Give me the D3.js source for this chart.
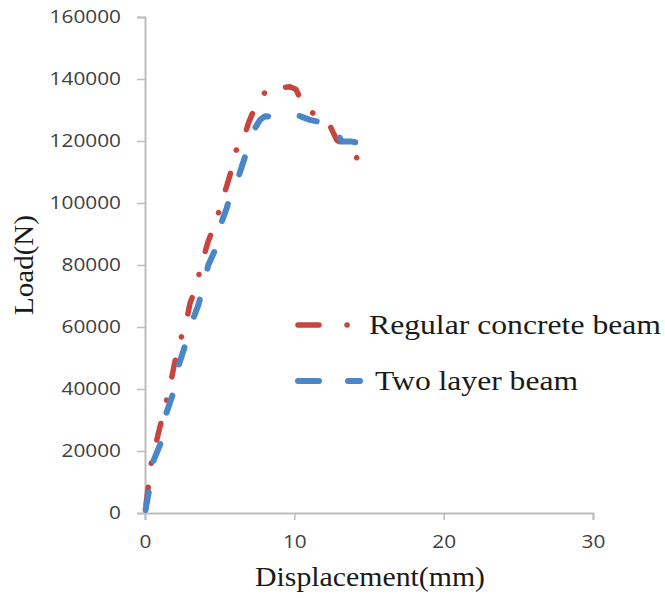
<!DOCTYPE html>
<html>
<head>
<meta charset="utf-8">
<script src="https://cdn.jsdelivr.net/npm/d3@7/dist/d3.min.js"></script>
<style>
  html, body { margin: 0; padding: 0; background: #ffffff; }
  svg { display: block; }
</style>
</head>
<body>
<svg id="chart" width="665" height="598"></svg>
<script>
// Load–displacement curves of the two beams (displacement in mm, load in N)
const regularDisp = [0, 0.42, 0.87, 1.2, 1.67, 2.0, 2.34, 2.79, 3.01, 3.46, 3.68, 4.2, 4.69, 5.0, 5.25, 5.69, 6.14, 6.48, 6.92, 7.48, 8.15, 8.9, 9.3, 9.7, 10.1, 10.72, 11.6, 12.26, 12.84, 13.5, 14.3];
const regularLoad = [0, 16200, 25200, 31600, 40700, 48800, 55300, 62300, 67600, 73500, 78400, 87200, 93500, 98000, 102000, 109000, 117600, 118700, 125700, 132200, 136400, 138000, 137300, 137500, 136700, 130500, 128000, 126200, 120300, 118500, 113900];

const twoLayerDisp = [0, 0.3, 0.54, 1.09, 1.43, 1.88, 2.23, 2.75, 3.24, 3.57, 3.9, 4.24, 4.69, 5.02, 5.47, 5.91, 6.3, 6.81, 7.15, 7.7, 8.04, 8.7, 9.26, 9.5, 10.2, 10.5, 11.05, 11.6, 12.06, 12.6, 13.17, 13.85, 14.5, 14.85, 15.4];
const twoLayerLoad = [0, 8000, 16500, 23000, 32200, 38600, 47200, 55000, 62800, 67100, 73000, 80000, 84800, 92400, 98300, 105800, 109000, 116600, 122500, 126800, 128000, 127800, 128400, 128400, 128400, 127800, 126800, 126200, 124600, 125000, 119800, 119800, 119300, 117600, 117100];

const seriesNames = ["Regular concrete beam", "Two layer beam"];
const xTicks = [0, 10, 20, 30];
const yTicks = [0, 20000, 40000, 60000, 80000, 100000, 120000, 140000, 160000];
const xTitle = "Displacement(mm)";
const yTitle = "Load(N)";

const svg = d3.select("#chart");
svg.append("rect").attr("width", 665).attr("height", 598).attr("fill", "#ffffff");

const x = d3.scaleLinear().domain([0, 30]).range([145, 593]);
const y = d3.scaleLinear().domain([0, 160000]).range([513, 17]);

const axisColor = "#bdbdbd";
const tickFont = "'Open Sans', 'Noto Sans', sans-serif";
const serifFont = "'Liberation Serif', 'DejaVu Serif', serif";

function styleTickText(sel) {
  sel.attr("font-family", tickFont).attr("font-size", 18).attr("fill", "#404040")
    .each(function (d) {
      const s = String(d);
      d3.select(this).attr("textLength", s.length * 11.9).attr("lengthAdjust", "spacingAndGlyphs");
    });
}

// y axis
const gy = svg.append("g")
  .attr("transform", `translate(${x(0)},0)`)
  .call(d3.axisLeft(y).tickValues(yTicks).tickSize(8).tickPadding(16).tickFormat(d3.format("d")));
gy.select(".domain").attr("stroke", axisColor).attr("stroke-width", 2);
gy.selectAll(".tick line").attr("stroke", axisColor).attr("stroke-width", 1.5);
styleTickText(gy.selectAll(".tick text"));

// x axis
const gx = svg.append("g")
  .attr("transform", `translate(0,${y(0)})`)
  .call(d3.axisBottom(x).tickValues(xTicks).tickSize(7).tickPadding(15).tickFormat(d3.format("d")));
gx.select(".domain").attr("stroke", axisColor).attr("stroke-width", 2);
gx.selectAll(".tick line").attr("stroke", axisColor).attr("stroke-width", 1.5);
styleTickText(gx.selectAll(".tick text"));

// axis titles
svg.append("text")
  .attr("x", 370).attr("y", 586)
  .attr("text-anchor", "middle")
  .attr("font-family", serifFont).attr("font-size", 27).attr("fill", "#1a1a1a")
  .attr("textLength", 230).attr("lengthAdjust", "spacingAndGlyphs")
  .text(xTitle);

svg.append("text")
  .attr("transform", "translate(33,265) rotate(-90)")
  .attr("text-anchor", "middle")
  .attr("font-family", serifFont).attr("font-size", 28).attr("fill", "#1a1a1a")
  .attr("textLength", 100).attr("lengthAdjust", "spacingAndGlyphs")
  .text(yTitle);

// series: long-dash-dot for the regular beam, long dash for the two layer beam
const series = [
  { name: seriesNames[0], disp: regularDisp, load: regularLoad, color: "#c8443f", dash: "17,24,0.1,23.9", offset: -9, width: 5.5 },
  { name: seriesNames[1], disp: twoLayerDisp, load: twoLayerLoad, color: "#4a86c8", dash: "18,32", offset: -3, width: 6 }
];

const line = d3.line().x(d => x(d[0])).y(d => y(d[1]));

series.forEach(s => {
  const pts = s.disp.map((d, i) => [d, s.load[i]]);
  svg.append("path")
    .datum(pts)
    .attr("d", line)
    .attr("fill", "none")
    .attr("stroke", s.color)
    .attr("stroke-width", s.width)
    .attr("stroke-linecap", "round")
    .attr("stroke-linejoin", "round")
    .attr("stroke-dasharray", s.dash)
    .attr("stroke-dashoffset", s.offset);
});

// legend
const legend = svg.append("g");
const legendY = [325, 381];
const legendDash = ["21,28,0.1,40", "21,29"];
const legendEnd = [363, 360];
series.forEach((s, i) => {
  legend.append("line")
    .attr("x1", 298).attr("x2", legendEnd[i])
    .attr("y1", legendY[i]).attr("y2", legendY[i])
    .attr("stroke", s.color)
    .attr("stroke-width", s.width)
    .attr("stroke-linecap", "round")
    .attr("stroke-dasharray", legendDash[i]);
});
legend.append("text")
  .attr("x", 369).attr("y", 334)
  .attr("font-family", serifFont).attr("font-size", 27).attr("fill", "#1a1a1a")
  .attr("textLength", 292).attr("lengthAdjust", "spacingAndGlyphs")
  .text(seriesNames[0]);
legend.append("text")
  .attr("x", 375).attr("y", 390)
  .attr("font-family", serifFont).attr("font-size", 27).attr("fill", "#1a1a1a")
  .attr("textLength", 203).attr("lengthAdjust", "spacingAndGlyphs")
  .text(seriesNames[1]);
</script>
</body>
</html>
